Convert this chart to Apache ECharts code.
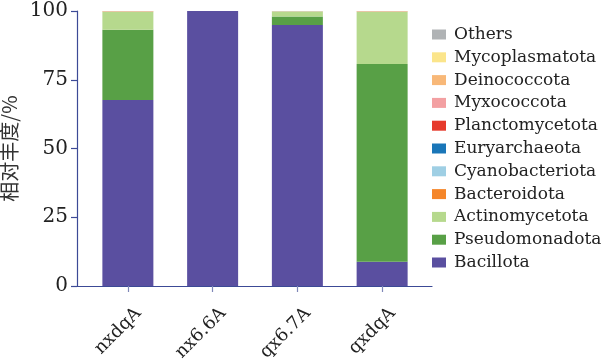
<!DOCTYPE html>
<html><head><meta charset="utf-8">
<script src="https://cdn.jsdelivr.net/npm/echarts@6/dist/echarts.min.js"></script>
<style>html,body{margin:0;padding:0;background:#fff}#c{width:606px;height:363px}</style>
</head><body><div id="c"></div>
<script>
const categories = ['nxdqA', 'nx6.6A', 'qx6.7A', 'qxdqA'];
const yTicks = [0, 25, 50, 75, 100];
// stacking order bottom -> top
const seriesNames = ['Bacillota','Pseudomonadota','Actinomycetota','Bacteroidota','Cyanobacteriota','Euryarchaeota','Planctomycetota','Myxococcota','Deinococcota','Mycoplasmatota','Others'];
const Bacillota       = [67.6, 100, 94.9, 8.8];
const Pseudomonadota  = [25.6, 0, 3.1, 71.9];
const Actinomycetota  = [6.4, 0, 1.8, 18.9];
const Bacteroidota    = [0.1, 0, 0.05, 0.1];
const Cyanobacteriota = [0, 0, 0, 0];
const Euryarchaeota   = [0, 0, 0, 0];
const Planctomycetota = [0, 0, 0, 0];
const Myxococcota     = [0, 0, 0, 0];
const Deinococcota    = [0.2, 0, 0.1, 0.2];
const Mycoplasmatota  = [0, 0, 0, 0];
const Others          = [0.1, 0, 0.05, 0.1];
const values = [Bacillota,Pseudomonadota,Actinomycetota,Bacteroidota,Cyanobacteriota,Euryarchaeota,Planctomycetota,Myxococcota,Deinococcota,Mycoplasmatota,Others];
const colors = ['#5a4fa0','#58a046','#b6d98d','#f5862a','#9fcfe4','#1a76b8','#e63a2c','#f3a0a2','#f8b878','#fbe58b','#b0b3b5'];

const font = '"DejaVu Serif",serif';
const axisColor = '#3c4a96';

const chart = echarts.init(document.getElementById('c'), null, {renderer: 'canvas'});
chart.setOption({
  animation: false,
  backgroundColor: '#fff',
  color: colors,
  grid: [
    {left: 85.5, right: 181.5, top: 11, bottom: 77, containLabel: false, outerBoundsMode: 'none'},
    {left: 77, right: 174, top: 11, bottom: 77, containLabel: false, outerBoundsMode: 'none'}
  ],
  xAxis: [{
    type: 'category', gridIndex: 0, data: categories, boundaryGap: true,
    axisLine: {show: false},
    axisTick: {show: true, alignWithLabel: true, length: 6, lineStyle: {color: '#7f87b8', width: 1.2}},
    axisLabel: {rotate: 45, margin: 14, fontFamily: font, fontSize: 18, color: '#222',
      verticalAlign: 'top', lineHeight: 30}
  }, {
    type: 'value', gridIndex: 1, min: 0, max: 1,
    splitLine: {show: false}, axisTick: {show: false}, axisLabel: {show: false},
    axisLine: {show: true, onZero: false, lineStyle: {color: axisColor, width: 1.2}}
  }],
  yAxis: [{
    type: 'value', gridIndex: 0, min: 0, max: 100, show: false
  }, {
    type: 'value', gridIndex: 1, min: 0, max: 100, interval: 25,
    name: '相对丰度/%', nameLocation: 'middle', nameGap: 57, nameRotate: 90,
    nameTextStyle: {fontFamily: '"Noto Sans CJK SC"', fontSize: 20, color: '#333'},
    splitLine: {show: false},
    axisLine: {show: true, onZero: false, lineStyle: {color: axisColor, width: 1.2}},
    axisTick: {show: true, length: 6, lineStyle: {color: axisColor, width: 1.2}},
    axisLabel: {fontFamily: font, fontSize: 20, color: '#222', margin: 9}
  }],
  legend: {
    orient: 'vertical', left: 432, top: 26, padding: 0,
    data: seriesNames.slice().reverse(),
    itemWidth: 14, itemHeight: 10, itemGap: 5.8,
    icon: 'rect',
    textStyle: {fontFamily: font, fontSize: 17, color: '#222', padding: [0,0,0,3]}
  },
  series: seriesNames.map((n, s) => ({
    name: n, type: 'bar', stack: 'total', barWidth: 51,
    xAxisIndex: 0, yAxisIndex: 0,
    itemStyle: {color: colors[s]},
    data: values[s]
  }))
});
</script></body></html>
